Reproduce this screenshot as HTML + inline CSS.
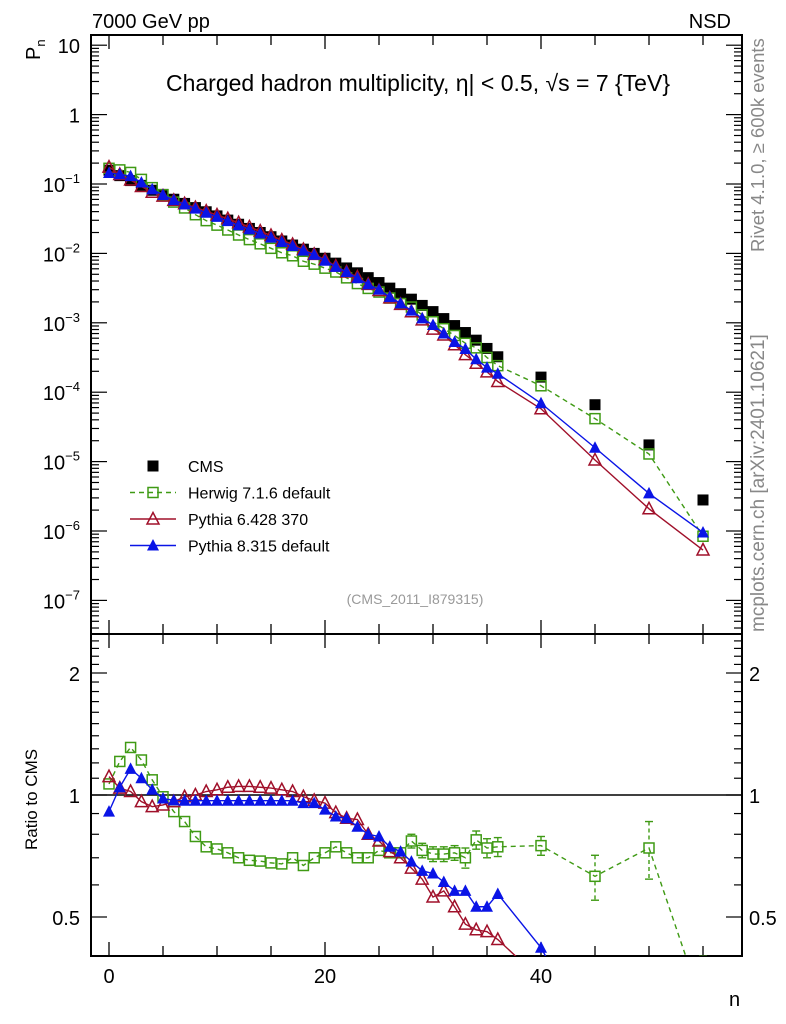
<!DOCTYPE html>
<html><head><meta charset="utf-8">
<style>
html,body{margin:0;padding:0;background:#fff;overflow:hidden;width:786px;height:1024px;}
svg{display:block;font-family:"Liberation Sans",sans-serif;}
</style></head>
<body>
<svg id="chart" width="786" height="1024" viewBox="0 0 786 1024" xmlns="http://www.w3.org/2000/svg">
<defs>
<clipPath id="clipMain"><rect x="91" y="35" width="651" height="599"/></clipPath>
<clipPath id="clipRatio"><rect x="91" y="634" width="651" height="322"/></clipPath>
</defs>
<text x="92" y="28" font-size="20">7000 GeV pp</text>
<text x="731" y="28" font-size="20" text-anchor="end">NSD</text>
<text transform="translate(40,60) rotate(-90)" font-size="20">P<tspan font-size="13" dy="5">n</tspan></text>
<text x="418" y="91" font-size="23" text-anchor="middle">Charged hadron multiplicity, η| &lt; 0.5, √s = 7 {TeV}</text>
<text x="415" y="604" font-size="14" fill="#999" text-anchor="middle">(CMS_2011_I879315)</text>
<text transform="translate(764,252) rotate(-90)" font-size="18.5" fill="#888">Rivet 4.1.0, ≥ 600k events</text>
<text transform="translate(764,632) rotate(-90)" font-size="19" fill="#888">mcplots.cern.ch [arXiv:2401.10621]</text>
<text transform="translate(37,850) rotate(-90)" font-size="17">Ratio to CMS</text>
<text x="729" y="1006" font-size="20">n</text>
<g id="axes"></g>
<g id="mainMarks" clip-path="url(#clipMain)"></g>
<g id="ratioMarks" clip-path="url(#clipRatio)"></g>
<g id="legend"></g>
</svg>
<script>
const nVals = [0,1,2,3,4,5,6,7,8,9,10,11,12,13,14,15,16,17,18,19,20,21,22,23,24,25,26,27,28,29,30,31,32,33,34,35,36,40,45,50,55];
const cmsVals = [0.158,0.132,0.112,0.0955,0.0813,0.0708,0.0603,0.0525,0.0457,0.0398,0.0347,0.0302,0.0263,0.0229,0.0200,0.0174,0.0151,0.0132,0.0115,0.0100,0.00851,0.00724,0.00617,0.00525,0.00447,0.00380,0.00316,0.00263,0.00219,0.00178,0.00145,0.00115,0.000912,0.000724,0.000562,0.000427,0.000324,0.000165,6.6e-5,1.74e-5,2.8e-6];
const herwigRatio = [1.065,1.21,1.31,1.22,1.09,0.99,0.91,0.86,0.79,0.745,0.736,0.72,0.70,0.69,0.687,0.68,0.676,0.70,0.67,0.70,0.72,0.745,0.72,0.70,0.70,0.73,0.72,0.72,0.77,0.73,0.715,0.715,0.72,0.70,0.775,0.74,0.745,0.75,0.63,0.74,0.30];
const herwigErr = [0,0,0,0,0,0,0,0,0,0,0,0,0,0,0,0,0,0,0,0,0,0,0,0,0,0,0,0,0.03,0.03,0.03,0.03,0.03,0.04,0.04,0.04,0.04,0.04,0.08,0.12,0.1];
const py6Ratio = [1.11,1.04,1.02,0.963,0.936,0.945,0.963,0.99,1.0,1.02,1.03,1.045,1.05,1.05,1.045,1.04,1.03,1.02,0.99,0.97,0.955,0.905,0.876,0.87,0.80,0.77,0.725,0.70,0.66,0.62,0.56,0.58,0.53,0.48,0.465,0.46,0.44,0.35,0.16,0.12,0.19];
const py8Ratio = [0.91,1.045,1.16,1.10,1.03,0.98,0.97,0.968,0.968,0.968,0.968,0.968,0.968,0.968,0.968,0.968,0.968,0.968,0.955,0.955,0.92,0.885,0.876,0.835,0.80,0.79,0.745,0.725,0.685,0.65,0.64,0.61,0.58,0.58,0.53,0.53,0.57,0.42,0.24,0.2,0.34];
const xTicks = [0,20,40];
const yMainTicks = [1e-7,1e-6,1e-5,1e-4,1e-3,1e-2,1e-1,1,10];
const yMainLabels = ["10^-7","10^-6","10^-5","10^-4","10^-3","10^-2","10^-1","1","10"];
const yRatioTicks = [0.5,1,2];

const NS="http://www.w3.org/2000/svg";
const X0=91,X1=742,YT=35,YB=634,RB=956;
const xs = n => 109 + 10.8*n;
const ym = v => 184 - 69.4*(Math.log10(v)+1);
const yr = r => 795 - 122*Math.log2(r);
function mk(tag, attrs, parent){const e=document.createElementNS(NS,tag);for(const k in attrs)e.setAttribute(k,attrs[k]);parent.appendChild(e);return e;}
const axes=document.getElementById('axes');
const mainG=document.getElementById('mainMarks');
const ratioG=document.getElementById('ratioMarks');
const legG=document.getElementById('legend');

let f=mk('rect',{x:X0,y:YT,width:X1-X0,height:YB-YT,fill:'none',stroke:'#000','stroke-width':2},axes);


f=mk('rect',{x:X0,y:YB,width:X1-X0,height:RB-YB,fill:'none',stroke:'#000','stroke-width':2},axes);



for(let n=0;n<=55;n+=5){
  const x=xs(n), L=(n%20===0)?14:10;
  [[YT,1],[YB,1],[YB,-1],[RB,-1]].forEach(([y,d])=>{
    const t=mk('line',{x1:x,x2:x,y1:y,y2:y+d*L,stroke:'#000','stroke-width':1.3},axes);
    
    
  });
}
xTicks.forEach(n=>{
  const t=mk('text',{x:xs(n),y:983,'font-size':20,'text-anchor':'middle'},axes);
  t.textContent=n;
  
  
});
for(let e=-8;e<=1;e++){
  for(let m=1;m<10;m++){
    const v=m*Math.pow(10,e), y=ym(v);
    if(y<YT||y>YB) continue;
    const L=(m===1)?16:8;
    [[X0,1],[X1,-1]].forEach(([x,d])=>{
      const t=mk('line',{x1:x,x2:x+d*L,y1:y,y2:y,stroke:'#000','stroke-width':1.2},axes);
      
      
    });
  }
}
yMainTicks.forEach((v,i)=>{
  const lab=yMainLabels[i];
  const t=mk('text',{x:80,y:ym(v)+8,'font-size':20,'text-anchor':'end'},axes);
  if(lab.indexOf('^')>=0){const p=lab.split('^');t.textContent=p[0];const s=mk('tspan',{'font-size':13,dy:-9},t);s.textContent='−'+p[1].slice(1);}
  else t.textContent=lab;
  
  
});
for(let k=3;k<=25;k++){
  const r=k/10, y=yr(r);
  if(y<YB||y>RB) continue;
  const major=(k===5||k===10||k===20);
  const L=major?16:8;
  [[X0,1],[X1,-1]].forEach(([x,d])=>{
    const t=mk('line',{x1:x,x2:x+d*L,y1:y,y2:y,stroke:'#000','stroke-width':1.2},axes);
    
    
  });
}
yRatioTicks.forEach(r=>{
  [[80,'end'],[749,'start']].forEach(([x,a])=>{
    const t=mk('text',{x:x,y:yr(r)+8,'font-size':20,'text-anchor':a},axes);
    t.textContent=r;
    
    
  });
});
let ref=mk('line',{x1:X0,x2:X1,y1:yr(1),y2:yr(1),stroke:'#000','stroke-width':1.5},ratioG);



function marker(g,type,x,y,color){
  let e;
  if(type==='sq') e=mk('rect',{x:x-5.5,y:y-5.5,width:11,height:11,fill:'#000'},g);
  else if(type==='osq') e=mk('rect',{x:x-5,y:y-5,width:10,height:10,fill:'none',stroke:color,'stroke-width':1.5},g);
  else if(type==='otri') e=mk('polygon',{points:`${x},${y-6.5} ${x-6},${y+5} ${x+6},${y+5}`,fill:'none',stroke:color,'stroke-width':1.5},g);
  else e=mk('polygon',{points:`${x},${y-6.5} ${x-6},${y+5} ${x+6},${y+5}`,fill:color},g);
  return e;
}
const series=[
  {name:'herwig',ratio:herwigRatio,color:'#3f9a14',dash:'5,4',mk:'osq'},
  {name:'pythia6',ratio:py6Ratio,color:'#a0102a',dash:null,mk:'otri'},
  {name:'pythia8',ratio:py8Ratio,color:'#0a14e6',dash:null,mk:'tri'}
];
cmsVals.forEach((v,i)=>{
  const e=marker(mainG,'sq',xs(nVals[i]),ym(v));
  
  
});
series.forEach(s=>{
  const ptsM=[],ptsR=[];
  nVals.forEach((n,i)=>{ptsM.push(xs(n)+','+ym(cmsVals[i]*s.ratio[i]));ptsR.push(xs(n)+','+yr(s.ratio[i]));});
  const a={fill:'none',stroke:s.color,'stroke-width':1.4};
  if(s.dash)a['stroke-dasharray']=s.dash;
  let l=mk('polyline',Object.assign({points:ptsM.join(' ')},a),mainG);
  
  
  l=mk('polyline',Object.assign({points:ptsR.join(' ')},a),ratioG);
  
  
  nVals.forEach((n,i)=>{
    let e=marker(mainG,s.mk,xs(n),ym(cmsVals[i]*s.ratio[i]),s.color);
    
    
    e=marker(ratioG,s.mk,xs(n),yr(s.ratio[i]),s.color);
    
    
    if(s.name==='herwig' && herwigErr[i]>0){
      const r=s.ratio[i],er=herwigErr[i],x=xs(n);
      const eb=mk('g',{stroke:s.color,'stroke-width':1.4},ratioG);
      
      
      mk('line',{x1:x,x2:x,y1:yr(r+er),y2:yr(r)-5,'stroke-dasharray':'4,3'},eb);
      mk('line',{x1:x,x2:x,y1:yr(r)+5,y2:yr(r-er),'stroke-dasharray':'4,3'},eb);
      mk('line',{x1:x-4,x2:x+4,y1:yr(r+er),y2:yr(r+er)},eb);
      mk('line',{x1:x-4,x2:x+4,y1:yr(r-er),y2:yr(r-er)},eb);
    }
  });
});
const legItems=[['CMS',null,'sq','#000'],['Herwig 7.1.6 default','5,4','osq','#3f9a14'],['Pythia 6.428 370','','otri','#a0102a'],['Pythia 8.315 default','','tri','#0a14e6']];
legItems.forEach((it,i)=>{
  const y=466+i*26.5;
  const g=mk('g',{},legG);
  
  
  if(it[1]!==null){const a={x1:130,x2:176,y1:y,y2:y,stroke:it[3],'stroke-width':1.4};if(it[1])a['stroke-dasharray']=it[1];mk('line',a,g);}
  marker(g,it[2],153,y,it[3]);
  const t=mk('text',{x:188,y:y+6,'font-size':16},g);t.textContent=it[0];
});
</script>
</body></html>
